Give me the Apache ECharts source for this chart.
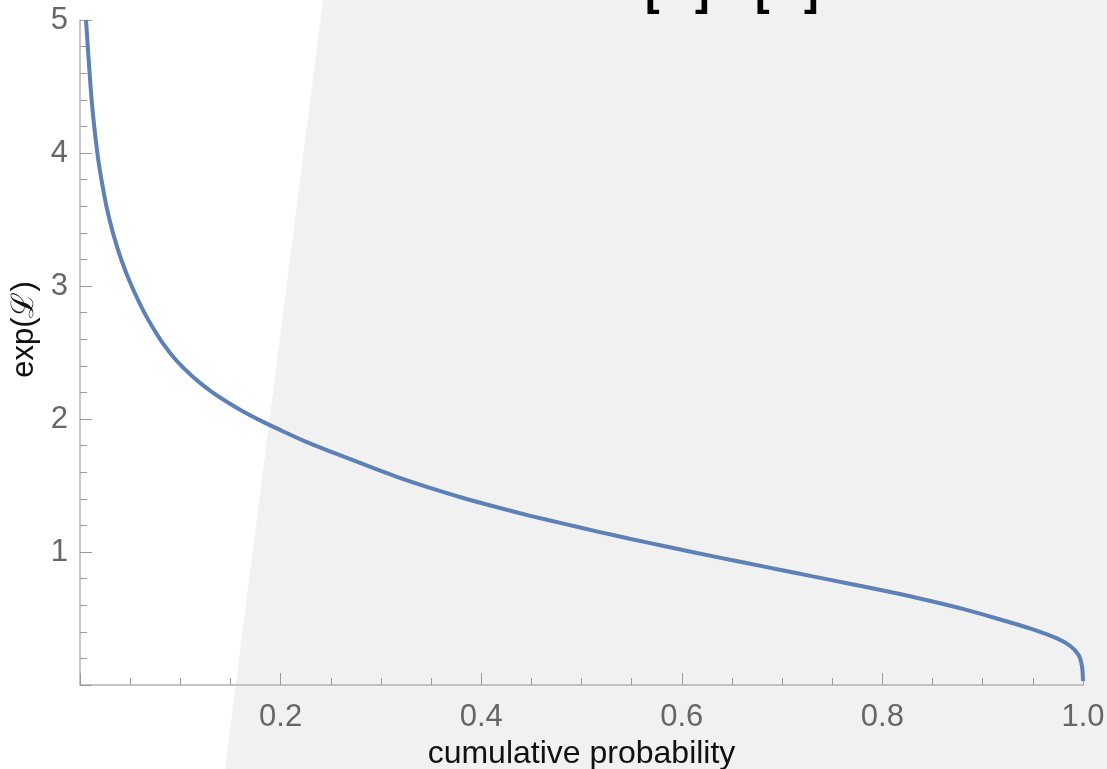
<!DOCTYPE html>
<html>
<head>
<meta charset="utf-8">
<script src="https://cdn.jsdelivr.net/npm/echarts@6/dist/echarts.min.js"></script>
<style>
html,body{margin:0;padding:0;background:#fff;}
#c{width:1107px;height:769px;}
</style>
</head>
<body>
<div id="c"></div>
<script>
const probability = [0.006, 0.0117, 0.0173, 0.0216, 0.0266, 0.0332, 0.0415, 0.0515, 0.0648, 0.0798, 0.09, 0.0997, 0.11, 0.12, 0.13, 0.14, 0.16, 0.18, 0.2, 0.225, 0.25, 0.2825, 0.316, 0.349, 0.382, 0.415, 0.449, 0.482, 0.515, 0.548, 0.582, 0.615, 0.648, 0.681, 0.714, 0.747, 0.78, 0.814, 0.847, 0.881, 0.914, 0.947, 0.974, 0.987, 0.9955, 0.999, 1.0];
const expL = [5.0, 4.39, 4.0, 3.79, 3.59, 3.39, 3.19, 3.0, 2.79, 2.6, 2.495, 2.41, 2.335, 2.27, 2.212, 2.16, 2.068, 1.988, 1.916, 1.83, 1.755, 1.66, 1.565, 1.482, 1.406, 1.338, 1.272, 1.213, 1.155, 1.10, 1.045, 0.993, 0.942, 0.892, 0.842, 0.792, 0.742, 0.69, 0.633, 0.57, 0.50, 0.425, 0.35, 0.295, 0.227, 0.14, 0.03];
const xTicks = [0, 0.2, 0.4, 0.6, 0.8, 1.0];
const yTicks = [0, 1, 2, 3, 4, 5];
const titleBrackets = ['[', ']', '[', ']'];

const chart = echarts.init(document.getElementById('c'), null, {renderer: 'canvas'});
const FONT = '"Liberation Sans", Arial, Helvetica, sans-serif';
const bracketX = [645, 695, 755, 804];
const axisGray = '#b4b4b4';
const tickGray = '#9a9a9a';

const option = {
  backgroundColor: '#ffffff',
  animation: false,
  graphic: [
    {
      type: 'polygon', z: -10, silent: true,
      shape: {points: [[323, 0], [1107, 0], [1107, 769], [225, 769]]},
      style: {fill: '#f1f1f1'}
    }
  ].concat(titleBrackets.map((t, i) => ({
    type: 'text', z: 10, silent: true,
    x: bracketX[i], y: -29,
    style: {text: t, font: 'bold 44px ' + FONT, fill: '#000', verticalAlign: 'top'}
  }))),
  grid: {left: 80, right: 24, top: 20, bottom: 84, containLabel: false, outerBoundsMode: 'none'},
  xAxis: {
    type: 'value', min: xTicks[0], max: xTicks[xTicks.length - 1], interval: 0.2,
    name: 'cumulative probability', nameLocation: 'middle', nameGap: 52,
    nameTextStyle: {color: '#111', fontSize: 32, fontFamily: FONT},
    axisLine: {show: true, onZero: false, lineStyle: {color: axisGray, width: 1.5}},
    axisTick: {show: true, inside: true, length: 12, lineStyle: {color: tickGray, width: 1}},
    minorTick: {show: true, splitNumber: 4, length: 7, lineStyle: {color: tickGray, width: 1}},
    axisLabel: {
      color: '#666', fontSize: 31, fontFamily: FONT, margin: 17,
      formatter: v => (Math.abs(v) < 1e-9 ? '' : v.toFixed(1))
    },
    splitLine: {show: false}
  },
  yAxis: {
    type: 'value', min: yTicks[0], max: yTicks[yTicks.length - 1], interval: 1,
    name: 'exp(ℒ)', nameLocation: 'middle', nameGap: 40, nameRotate: 90,
    nameTextStyle: {color: '#111', fontSize: 31, fontFamily: FONT, padding: [0, 0, 0, 46]},
    axisLine: {show: true, onZero: false, lineStyle: {color: axisGray, width: 1.5}},
    axisTick: {show: true, inside: true, length: 12, lineStyle: {color: tickGray, width: 1}},
    minorTick: {show: true, splitNumber: 5, length: 7, lineStyle: {color: tickGray, width: 1}},
    axisLabel: {
      color: '#666', fontSize: 31, fontFamily: FONT, margin: 12,
      formatter: v => (Math.abs(v) < 1e-9 ? '' : String(v))
    },
    splitLine: {show: false}
  },
  series: [{
    type: 'line',
    data: probability.map((p, i) => [p, expL[i]]),
    showSymbol: false,
    smooth: 0.25,
    lineStyle: {color: '#5e81b5', width: 4},
    clip: false,
    z: 5
  }]
};
chart.setOption(option);
</script>
</body>
</html>
